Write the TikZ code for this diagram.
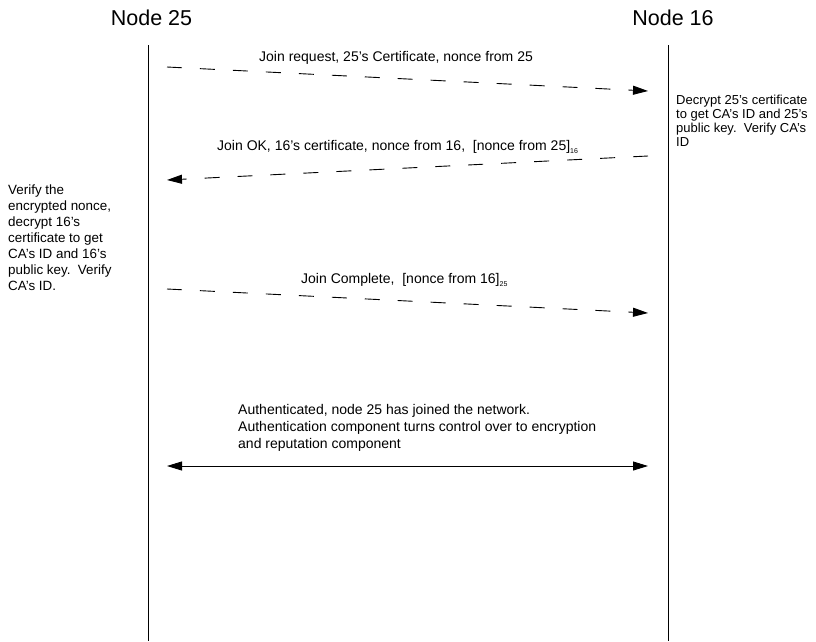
\documentclass[tikz,border=0pt]{standalone}
\usepackage{fontspec}
\setmainfont{Liberation Sans}
\usetikzlibrary{arrows.meta}
\begin{document}
\begin{tikzpicture}[x=1pt,y=-1pt,
  lifeline/.style={line width=0.9pt},
  title/.style={font=\fontsize{21.5}{24}\selectfont, inner sep=0pt},
  msg/.style={line width=0.9pt, dash pattern=on 15pt off 18pt, -{Triangle[length=15pt,width=9pt]}},
  both/.style={line width=0.9pt, {Triangle[length=15pt,width=9pt]}-{Triangle[length=15pt,width=9pt]}},
  lbl/.style={font=\fontsize{14}{17}\selectfont, inner sep=0pt, align=left},
  notel/.style={font=\fontsize{13.4}{16}\selectfont, inner sep=0pt, align=left},
  noter/.style={font=\fontsize{13}{13.8}\selectfont, inner sep=0pt, align=left},
]
\useasboundingbox (0,0) rectangle (816,641);
% titles
\node[title] (t25) at (151.5,18) {Node 25};
\node[title] (t16) at (673,18) {Node 16};
% lifelines
\coordinate (l25top) at (148,45);
\coordinate (l25bot) at (148,641);
\coordinate (l16top) at (668,45);
\coordinate (l16bot) at (668,641);
\draw[lifeline] (l25top) -- (l25bot);
\draw[lifeline] (l16top) -- (l16bot);
% message 1
\coordinate (m1s) at (167,67);
\coordinate (m1e) at (648,91);
\draw[msg] (m1s) -- (m1e);
\node[lbl,anchor=west] (m1l) at (259,58) {Join request, 25's Certificate, nonce from 25};
% message 2
\coordinate (m2s) at (648,156);
\coordinate (m2e) at (167,180);
\draw[msg] (m2s) -- (m2e);
\node[lbl,anchor=west] (m2l) at (217,147) {Join OK, 16's certificate, nonce from 16,\ \ [nonce from 25]\raisebox{-3pt}{\fontsize{7}{8}\selectfont 16}};
% message 3
\coordinate (m3s) at (167,289);
\coordinate (m3e) at (648,313);
\draw[msg] (m3s) -- (m3e);
\node[lbl,anchor=west] (m3l) at (301,280) {Join Complete,\ \ [nonce from 16]\raisebox{-3pt}{\fontsize{7}{8}\selectfont 25}};
% message 4
\coordinate (m4s) at (167,466);
\coordinate (m4e) at (648,466);
\draw[both] (m4s) -- (m4e);
\node[lbl,anchor=north west] (m4l) at (238,404) {Authenticated, node 25 has joined the network.\\Authentication component turns control over to encryption\\and reputation component};
% side notes
\node[noter,anchor=north west] (n16) at (676,95) {Decrypt 25's certificate\\to get CA's ID and 25's\\public key.\ \ Verify CA's\\ID};
\node[notel,anchor=north west] (n25) at (8,185) {Verify the\\encrypted nonce,\\decrypt 16's\\certificate to get\\CA's ID and 16's\\public key.\ \ Verify\\CA's ID.};
\end{tikzpicture}
\end{document}
